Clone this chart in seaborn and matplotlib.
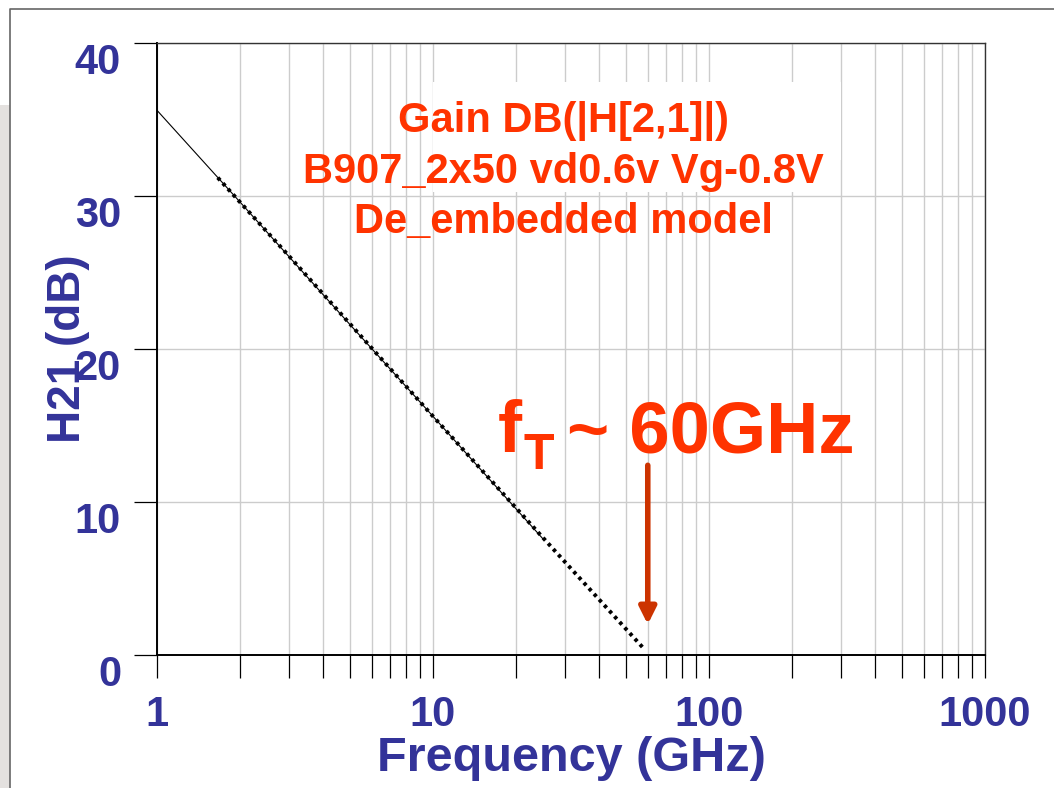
import numpy as np
import matplotlib
matplotlib.use('Agg')
import matplotlib.pyplot as plt
import seaborn as sns
from matplotlib.patches import Rectangle
from matplotlib.lines import Line2D
from matplotlib.ticker import LogLocator, NullFormatter

# H21 vs frequency
freq_model = [1, 2, 5, 10, 25]
h21_model = [35.6, 29.6, 21.6, 15.6, 7.6]
freq_meas = [1.66, 3, 10, 30, 57.5]
h21_meas = [31.2, 26.1, 15.6, 6.1, 0.5]

x_ticks = [1, 10, 100, 1000]
x_ticklabels = ['1', '10', '100', '1000']
y_ticks = [0, 10, 20, 30, 40]
ft_ghz = 60

title_lines = ['Gain DB(|H[2,1]|)', 'B907_2x50 vd0.6v Vg-0.8V', 'De_embedded model']

sns.set_style('white')
plt.rcParams['font.family'] = ['Liberation Sans', 'DejaVu Sans']
plt.rcParams['font.weight'] = 'bold'

navy = '#333399'
red = '#ff3300'
arrow_red = '#cc3300'

W, H = 1054, 788
fig = plt.figure(figsize=(W / 100, H / 100), dpi=100)


def fx(px):
    return px / W


def fy(py):
    return 1 - py / H


# slide frame bits
fig.add_artist(Rectangle((0, 0), fx(10), fy(105), transform=fig.transFigure,
                         facecolor='#e4e1df', edgecolor='none', zorder=0))
fig.add_artist(Line2D([fx(10), fx(10), 1], [0, fy(9), fy(9)], color='#666666', lw=1.2))

ax = fig.add_axes([fx(157), fy(655), fx(985) - fx(157), fy(43) - fy(655)])
ax.set_xscale('log')

sns.lineplot(x=freq_model, y=h21_model, ax=ax, color='black', linewidth=0.8)
sns.lineplot(x=freq_meas, y=h21_meas, ax=ax, color='black', linewidth=2.8,
             linestyle=(0, (0.9, 1.05)))

ax.set_xlim(1, 1000)
ax.set_ylim(0, 40)
ax.set_xticks(x_ticks)
ax.set_xticklabels(x_ticklabels)
ax.xaxis.set_minor_locator(LogLocator(base=10, subs=np.arange(2, 10)))
ax.xaxis.set_minor_formatter(NullFormatter())
ax.set_yticks(y_ticks)

ax.grid(True, which='both', axis='x', color='#cccccc', lw=1)
ax.grid(True, which='major', axis='y', color='#cccccc', lw=1)
ax.set_axisbelow(True)

ax.tick_params(axis='both', which='both', direction='out', length=16.5, width=0.9,
               color='black', labelsize=30, labelcolor=navy)
ax.tick_params(axis='x', which='both', bottom=True, pad=12)
ax.tick_params(axis='y', left=True, pad=9.4)
for lab in ax.get_yticklabels():
    lab.set_va('top')

for side in ['left', 'bottom']:
    ax.spines[side].set_color('black')
    ax.spines[side].set_linewidth(1.4)
for side in ['top', 'right']:
    ax.spines[side].set_color('#333333')
    ax.spines[side].set_linewidth(1.0)

ax.set_xlabel('Frequency (GHz)', fontsize=35, color=navy, fontweight='bold')
ax.xaxis.set_label_coords(0.5, -0.132)
ax.set_ylabel('H21 (dB)', fontsize=33, color=navy, fontweight='bold')
ax.yaxis.set_label_coords(-0.081, 0.5)

# white box behind the caption
ax.add_patch(Rectangle((10, 32.35), 290, 5.1, facecolor='white', edgecolor='none', zorder=1))
ax.add_patch(Rectangle((10, 30.25), 276, 2.15, facecolor='white', edgecolor='none', zorder=1))

for line, base in zip(title_lines, [132, 183, 233]):
    fig.text(fx(563), fy(base), line, ha='center', va='baseline',
             fontsize=30, color=red, fontweight='bold')

fig.text(fx(498), fy(452), 'f', fontsize=52, color=red, ha='left', va='baseline', fontweight='bold')
fig.text(fx(524), fy(469), 'T', fontsize=36, color=red, ha='left', va='baseline', fontweight='bold')
fig.text(fx(567), fy(452), '~ 60GHz', fontsize=52, color=red, ha='left', va='baseline', fontweight='bold')

ax.annotate('', xy=(ft_ghz, 2.0), xytext=(ft_ghz, 12.4),
            arrowprops=dict(arrowstyle='-|>,head_length=0.5,head_width=0.25',
                            color=arrow_red, lw=4, mutation_scale=20,
                            shrinkA=0, shrinkB=0))

fig.savefig('out.png', dpi=100)
